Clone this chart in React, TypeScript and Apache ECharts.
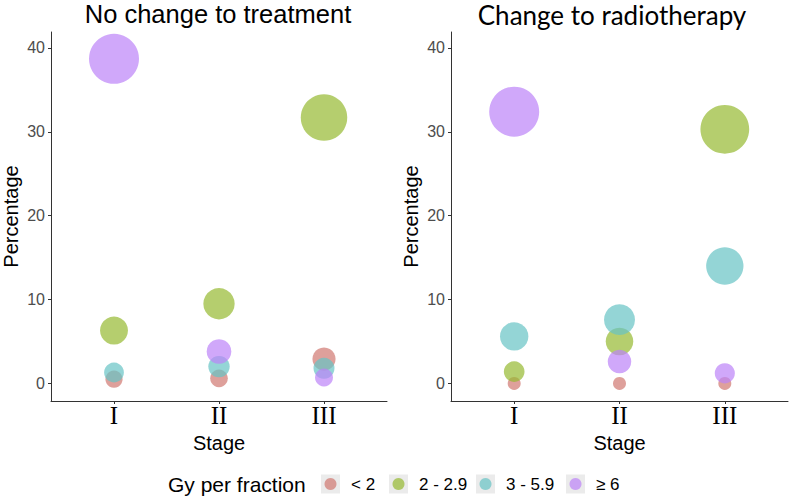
import React, { useEffect, useRef } from "react";
import * as echarts from "echarts";

const stages = ["I", "II", "III"];
const groups = ["< 2", "2 - 2.9", "3 - 5.9", "≥ 6"];
const groupColors = ["rgb(208,119,112)", "rgb(149,185,48)", "rgb(102,195,196)", "rgb(188,131,248)"];
const panelTitles = ["No change to treatment", "Change to radiotherapy"];
const yTicks = [0, 10, 20, 30, 40];

// Percentages by stage (I, II, III) for each dose group
const noChangeLt2 = [0.5, 0.6, 2.9];
const noChange2 = [6.3, 9.5, 31.7];
const noChange3 = [1.3, 2.0, 1.8];
const noChange6 = [38.7, 3.8, 0.7];

const radioLt2 = [0, 0, 0];
const radio2 = [1.4, 5.0, 30.3];
const radio3 = [5.6, 7.6, 14.0];
const radio6 = [32.4, 2.6, 1.2];

const panels = [
  [noChangeLt2, noChange2, noChange3, noChange6],
  [radioLt2, radio2, radio3, radio6],
];

const sansFont = "'Liberation Sans', Arial, sans-serif";
const markOpacity = 0.7;

export default function App() {
  const ref = useRef<HTMLDivElement>(null);

  useEffect(() => {
    if (!ref.current) return;
    const chart = echarts.init(ref.current, undefined, { renderer: "svg" });

    const grids = [
      { left: 49, right: 403, top: 32, bottom: 99 },
      { left: 451, right: 2, top: 32, bottom: 99 },
    ];

    const xAxes = grids.map((_, i) => ({
      type: "value",
      gridIndex: i,
      min: 0.4,
      max: 3.6,
      name: "Stage",
      nameLocation: "middle",
      nameGap: 24,
      nameTextStyle: { fontFamily: sansFont, fontSize: 20, color: "#000" },
      axisLine: { show: true, onZero: false, lineStyle: { color: "#333", width: 1 } },
      axisTick: { show: true, length: 3, customValues: [1, 2, 3], lineStyle: { color: "#333" } },
      axisLabel: {
        customValues: [1, 2, 3],
        formatter: (v: number) => stages[Math.round(v) - 1] ?? "",
        fontFamily: "'Liberation Serif', 'Times New Roman', serif",
        fontSize: 25,
        color: "#000",
        margin: 2,
      },
      splitLine: { show: false },
    }));

    const yAxes = grids.map((_, i) => ({
      type: "value",
      gridIndex: i,
      min: -2.1,
      max: 41.9,
      name: "Percentage",
      nameLocation: "middle",
      nameGap: 30,
      nameTextStyle: { fontFamily: sansFont, fontSize: 20, color: "#000" },
      axisLine: { show: true, onZero: false, lineStyle: { color: "#333", width: 1 } },
      axisTick: { show: true, length: 3, customValues: yTicks, lineStyle: { color: "#333" } },
      axisLabel: {
        customValues: yTicks,
        fontFamily: sansFont,
        fontSize: 16,
        color: "#4d4d4d",
        margin: 6,
      },
      splitLine: { show: false },
    }));

    const series: any[] = [];
    panels.forEach((panel, p) => {
      const panelMax = Math.max(...panel.flat());
      panel.forEach((vals, g) => {
        series.push({
          type: "scatter",
          name: groups[g],
          xAxisIndex: p,
          yAxisIndex: p,
          data: vals.map((v, s) => [s + 1, v]),
          symbol: "circle",
          symbolSize: (d: number[]) => 13 + 37 * Math.sqrt(d[1] / panelMax),
          itemStyle: { color: groupColors[g], opacity: markOpacity },
          emphasis: { disabled: true },
        });
      });
    });

    const graphic: any[] = [];
    const titleCenters = [218, 612];
    panelTitles.forEach((t, i) => {
      graphic.push({
        type: "text",
        x: titleCenters[i],
        y: i === 0 ? 14 : 15,
        style: {
          text: t,
          textAlign: "center",
          textVerticalAlign: "middle",
          fontFamily: i === 0 ? sansFont : "Lato, 'Open Sans', sans-serif",
          fontSize: i === 0 ? 25.5 : 26,
          fill: "#000",
        },
      });
    });

    // Legend
    const legendY = 484;
    graphic.push({
      type: "text",
      x: 168,
      y: legendY,
      style: {
        text: "Gy per fraction",
        textVerticalAlign: "middle",
        fontFamily: sansFont,
        fontSize: 21,
        fill: "#000",
      },
    });
    const keyX = [321, 389, 476, 566];
    groups.forEach((g, i) => {
      graphic.push({
        type: "rect",
        shape: { x: keyX[i], y: legendY - 9.5, width: 19, height: 19 },
        style: { fill: "#ebebeb" },
      });
      graphic.push({
        type: "circle",
        shape: { cx: keyX[i] + 9.5, cy: legendY, r: 6 },
        style: { fill: groupColors[i], opacity: markOpacity },
      });
      graphic.push({
        type: "text",
        x: keyX[i] + 30,
        y: legendY,
        style: {
          text: g,
          textVerticalAlign: "middle",
          fontFamily: sansFont,
          fontSize: 17,
          fill: "#000",
        },
      });
    });

    chart.setOption({
      animation: false,
      backgroundColor: "#fff",
      grid: grids,
      xAxis: xAxes,
      yAxis: yAxes,
      series,
      graphic,
    });

    return () => chart.dispose();
  }, []);

  return <div ref={ref} style={{ width: 790, height: 500, position: "absolute", left: 0, top: 0 }} />;
}
